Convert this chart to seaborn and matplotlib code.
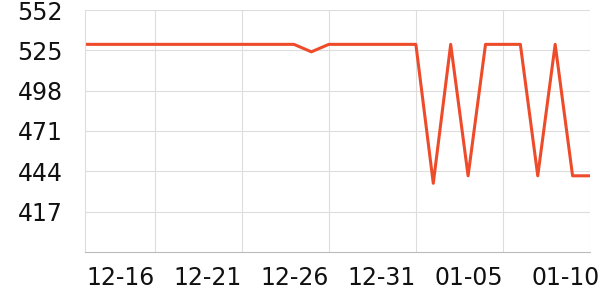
import matplotlib
matplotlib.use("Agg")
import matplotlib.pyplot as plt
import matplotlib.transforms as mtransforms
import seaborn as sns
import pandas as pd

dates = pd.date_range("2023-12-12", "2024-01-10", freq="D")
values = [529, 529, 529, 529, 529, 529, 529, 529, 529, 529, 529, 529, 529,
          524,
          529, 529, 529, 529, 529, 529,
          436, 529, 441, 529, 529, 529, 441, 529, 441, 441]
y_ticks = [417, 444, 471, 498, 525, 552]
x_tick_labels = ["12-16", "12-21", "12-26", "12-31", "01-05", "01-10"]

df = pd.DataFrame({"date": dates, "value": values})

sns.set_style("white")
plt.rcParams["font.family"] = ["DejaVu Sans"]

fig = plt.figure(figsize=(6, 3), dpi=100)
ax = fig.add_axes([85 / 600, 1 - 252 / 300, 505 / 600, 242 / 300])

sns.lineplot(data=df, x="date", y="value", ax=ax, color="#ee4b2b", linewidth=2.2)

ax.set_xlim(dates[0], dates[-1])
ax.set_ylim(390, 552)
ax.set_yticks(y_ticks)
ax.set_yticklabels([str(v) for v in y_ticks])

xt = [pd.Timestamp("2023-12-16") + pd.Timedelta(days=5 * i) for i in range(6)]
ax.set_xticks(xt)
ax.set_xticklabels(x_tick_labels, ha="right")

ax.grid(True, color="#dddddd", linewidth=0.8)
ax.set_axisbelow(True)
for s in ["top", "right"]:
    ax.spines[s].set_visible(False)
ax.spines["left"].set_color("#dddddd")
ax.spines["bottom"].set_color("#bbbbbb")
ax.tick_params(axis="both", labelsize=17, labelcolor="#111111", length=4, width=0.8)
ax.tick_params(axis="x", color="#cccccc", pad=6)
ax.tick_params(axis="y", color="#dddddd", pad=12)
ax.set_xlabel("")
ax.set_ylabel("")

# shift the last x label so it fits inside the canvas like the reference
last = ax.get_xticklabels()[-1]
last.set_transform(last.get_transform() + mtransforms.ScaledTranslation(10 / 100, 0, fig.dpi_scale_trans))

fig.savefig("out.png", dpi=100)
